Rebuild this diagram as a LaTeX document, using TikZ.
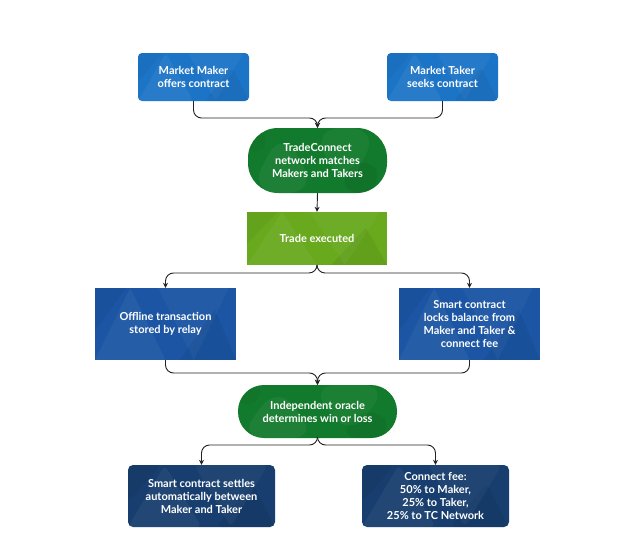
\documentclass[tikz,border=0pt]{standalone}
\usepackage{fontspec}
\setmainfont{Lato}
\usetikzlibrary{arrows.meta,calc}
\definecolor{topblue}{HTML}{1C74C6}
\definecolor{midblue}{HTML}{1B55A3}
\definecolor{navy}{HTML}{173E6E}
\definecolor{dgreen}{HTML}{127A2C}
\definecolor{lgreen}{HTML}{68A91E}
\definecolor{linec}{HTML}{222222}
\newcommand\facetri[7]{\fill[white,opacity=#7] let \p1=(path picture bounding box.north west), \p2=(path picture bounding box.south east) in ({\x1+#1*(\x2-\x1)},{\y1+#2*(\y2-\y1)}) -- ({\x1+#3*(\x2-\x1)},{\y1+#4*(\y2-\y1)}) -- ({\x1+#5*(\x2-\x1)},{\y1+#6*(\y2-\y1)}) -- cycle;}
\newcommand\facetrid[7]{\fill[black,opacity=#7] let \p1=(path picture bounding box.north west), \p2=(path picture bounding box.south east) in ({\x1+#1*(\x2-\x1)},{\y1+#2*(\y2-\y1)}) -- ({\x1+#3*(\x2-\x1)},{\y1+#4*(\y2-\y1)}) -- ({\x1+#5*(\x2-\x1)},{\y1+#6*(\y2-\y1)}) -- cycle;}
\tikzset{
  base/.style={text=white, align=center, inner sep=0pt,
    font=\fontsize{11}{13}\selectfont\bfseries,
    path picture={
      \facetri{0}{1}{0.25}{0}{0.5}{1}{0.05}
      \facetri{0.45}{0}{0.7}{1}{0.95}{0}{0.04}
      \facetrid{0.6}{1}{0.85}{0.3}{1}{1}{0.05}
      \facetrid{0}{0}{0.22}{0}{0}{0.6}{0.04}
    }},
  topbox/.style={base, fill=topblue, rounded corners=4pt, minimum width=111pt, minimum height=48pt},
  pill/.style={base, fill=dgreen},
  exbox/.style={base, fill=lgreen, minimum width=140pt, minimum height=53pt},
  midbox/.style={base, fill=midblue, minimum width=141pt, minimum height=72pt},
  botbox/.style={base, fill=navy, rounded corners=5pt, minimum width=147pt, minimum height=62pt},
  conn/.style={draw=linec, line width=0.9pt, rounded corners=8pt, -{Stealth[length=5pt,width=5pt]}}
}
\begin{document}
\begin{tikzpicture}[x=1pt,y=-1pt]
\useasboundingbox[fill=white] (0,0) rectangle (640,554);
\node[topbox] (mm) at (193.5,77) {Market Maker\\offers contract};
\node[topbox] (mt) at (442.5,77) {Market Taker\\seeks contract};
\node[pill, minimum width=139pt, minimum height=65pt, rounded corners=30pt] (tc) at (317.5,160.5) {TradeConnect\\network matches\\Makers and Takers};
\node[exbox] (te) at (317,238.5) {Trade executed};
\node[midbox] (off) at (165.5,324) {Offline transaction\\stored by relay};
\node[midbox] (lock) at (469.5,324) {Smart contract\\locks balance from\\Maker and Taker \&\\connect fee};
\node[pill, minimum width=159pt, minimum height=53pt, rounded corners=26pt] (or) at (317.5,411.5) {Independent oracle\\determines win or loss};
\node[botbox] (set) at (201.5,496) {Smart contract settles\\automatically between\\Maker and Taker};
\node[botbox] (fee) at (435.5,496) {Connect fee:\\50\% to Maker,\\25\% to Taker,\\25\% to TC Network};
\coordinate (j1) at (317.5,118);
\coordinate (j2) at (317,273);
\coordinate (j3) at (317.5,373);
\coordinate (j4) at (317.5,445);
\draw[conn] (mm.south) |- (j1) -- (tc.north);
\draw[conn] (mt.south) |- (j1) -- (tc.north);
\draw[conn] (tc.south) -- (te.north);
\draw[conn] (te.south) -- (j2) -| (off.north);
\draw[conn] (te.south) -- (j2) -| (lock.north);
\draw[conn] (off.south) |- (j3) -- (or.north);
\draw[conn] (lock.south) |- (j3) -- (or.north);
\draw[conn] (or.south) -- (j4) -| (set.north);
\draw[conn] (or.south) -- (j4) -| (fee.north);
\end{tikzpicture}
\end{document}
